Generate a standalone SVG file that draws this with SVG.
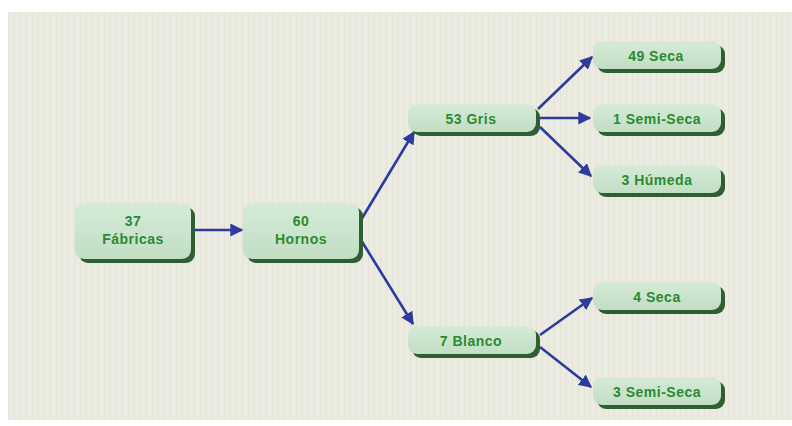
<svg xmlns="http://www.w3.org/2000/svg" width="792" height="426" viewBox="0 0 792 426">
<defs>
<linearGradient id="g" x1="0" y1="0" x2="0" y2="1">
<stop offset="0" stop-color="#d6ebd7"/>
<stop offset="1" stop-color="#c1dec4"/>
</linearGradient>
<pattern id="bgp" width="6" height="10" patternUnits="userSpaceOnUse">
<rect width="6" height="10" fill="#ecebe1"/>
<rect x="2" width="1" height="10" fill="#e4e3d7"/>
</pattern>
<marker id="ah" viewBox="0 0 10 10" refX="9" refY="5" markerWidth="5" markerHeight="5" orient="auto" markerUnits="strokeWidth">
<path d="M0,0 L10,5 L0,10 Z" fill="#2c3b9c"/>
</marker>
</defs>
<style>
.sh{fill:#2f5e33}
.bx{fill:url(#g)}
.t{font-family:"Liberation Sans",Arial,sans-serif;font-weight:bold;font-size:14px;letter-spacing:0.5px;fill:#2b8a32;text-anchor:middle}
.c{stroke:#2c3b9c;stroke-width:2.6;fill:none;marker-end:url(#ah)}
</style>
<rect width="792" height="426" fill="#ffffff"/>
<rect x="8" y="12" width="784" height="408" fill="url(#bgp)"/>
<g id="connectors">
<line class="c" x1="190" y1="230" x2="242" y2="230"/>
<line class="c" x1="361" y1="220" x2="414" y2="132"/>
<line class="c" x1="361" y1="240" x2="413" y2="324"/>
<line class="c" x1="538" y1="109" x2="592" y2="57"/>
<line class="c" x1="540" y1="118" x2="590" y2="118"/>
<line class="c" x1="540" y1="127" x2="591" y2="176"/>
<line class="c" x1="540" y1="335" x2="592" y2="298"/>
<line class="c" x1="540" y1="347" x2="591" y2="387"/>
</g>
<g id="n-fabricas">
<rect class="sh" x="79" y="207" width="116" height="56" rx="9"/>
<rect class="bx" x="75" y="203" width="116" height="56" rx="9"/>
<text class="t" x="133" y="226">37</text>
<text class="t" x="133" y="244">Fábricas</text>
</g>
<g id="n-hornos">
<rect class="sh" x="247" y="207" width="116" height="56" rx="9"/>
<rect class="bx" x="243" y="203" width="116" height="56" rx="9"/>
<text class="t" x="301" y="226">60</text>
<text class="t" x="301" y="244">Hornos</text>
</g>
<g id="n-gris">
<rect class="sh" x="412" y="108" width="128" height="28" rx="9"/>
<rect class="bx" x="408" y="104" width="128" height="28" rx="9"/>
<text class="t" x="471" y="124">53 Gris</text>
</g>
<g id="n-blanco">
<rect class="sh" x="412" y="330" width="128" height="28" rx="9"/>
<rect class="bx" x="408" y="326" width="128" height="28" rx="9"/>
<text class="t" x="471" y="346">7 Blanco</text>
</g>
<g id="n-seca1">
<rect class="sh" x="597" y="45" width="128" height="28" rx="9"/>
<rect class="bx" x="593" y="41" width="128" height="28" rx="9"/>
<text class="t" x="656" y="61">49 Seca</text>
</g>
<g id="n-semiseca1">
<rect class="sh" x="597" y="108" width="128" height="28" rx="9"/>
<rect class="bx" x="593" y="104" width="128" height="28" rx="9"/>
<text class="t" x="657" y="124">1 Semi-Seca</text>
</g>
<g id="n-humeda">
<rect class="sh" x="597" y="169" width="128" height="28" rx="9"/>
<rect class="bx" x="593" y="165" width="128" height="28" rx="9"/>
<text class="t" x="657" y="185">3 Húmeda</text>
</g>
<g id="n-seca2">
<rect class="sh" x="597" y="286" width="128" height="28" rx="9"/>
<rect class="bx" x="593" y="282" width="128" height="28" rx="9"/>
<text class="t" x="657" y="302">4 Seca</text>
</g>
<g id="n-semiseca2">
<rect class="sh" x="597" y="381" width="128" height="28" rx="9"/>
<rect class="bx" x="593" y="377" width="128" height="28" rx="9"/>
<text class="t" x="657" y="397">3 Semi-Seca</text>
</g>
</svg>
